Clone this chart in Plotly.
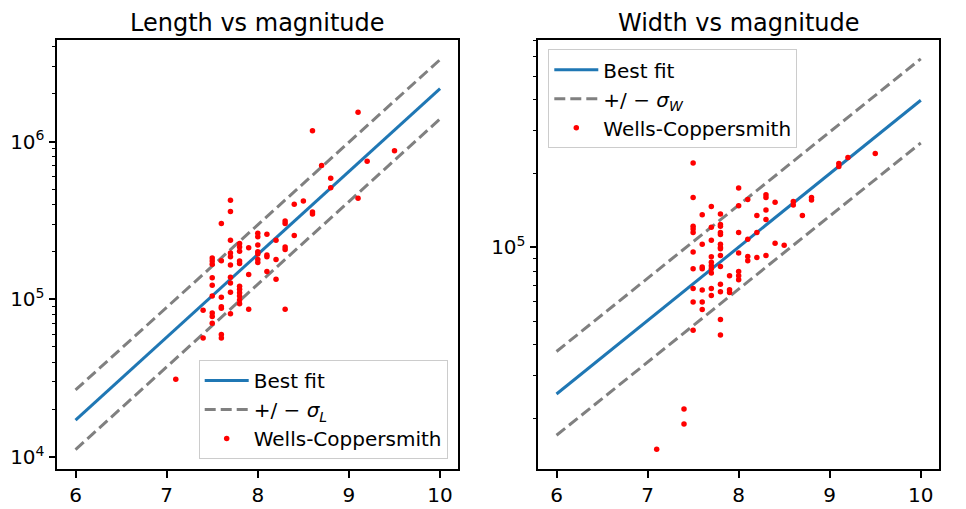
import plotly.graph_objects as go

# ---------------- data ----------------
fit_mag = [6, 10]
len_fit = [1.72e4, 2.16e6]
len_upper = [2.67e4, 3.30e6]
len_lower = [1.12e4, 1.39e6]

wid_fit = [2.52e4, 3.99e5]
wid_upper = [3.76e4, 5.89e5]
wid_lower = [1.71e4, 2.67e5]

wc_mag_len = ([7.1] + [7.4] * 2 + [7.5] * 9 + [7.6] * 7 + [7.7] * 10 + [7.8] * 11
              + [7.9] * 3 + [8.0] * 7 + [8.1] * 4 + [8.2] * 3 + [8.3] * 5 + [8.4] * 2
              + [8.5] + [8.6] * 3 + [8.7] + [8.8] * 2 + [9.1] * 2 + [9.2] + [9.5])
wc_length = [3.12e4,
             8.55e4, 5.7e4,
             1.83e5, 1.75e5, 1.67e5, 1.37e5, 1.23e5, 1.05e5, 8.2e4, 7.8e4, 7.05e4,
             3.03e5, 1.76e5, 1.03e5, 9.0e4, 8.8e4, 6.0e4, 5.7e4,
             4.25e5, 3.6e5, 2.37e5, 1.97e5, 1.86e5, 1.65e5, 1.38e5, 1.27e5, 1.11e5, 8.1e4,
             2.26e5, 2.15e5, 2.02e5, 1.75e5, 1.69e5, 1.21e5, 1.16e5, 1.10e5, 1.05e5, 9.9e4, 9.4e4,
             2.12e5, 1.44e5, 8.65e4,
             2.62e5, 2.49e5, 2.21e5, 2.0e5, 1.94e5, 1.79e5, 1.71e5,
             2.59e5, 1.91e5, 1.86e5, 1.50e5,
             2.37e5, 1.79e5, 1.34e5,
             3.14e5, 3.03e5, 2.15e5, 2.07e5, 8.65e4,
             4.0e5, 2.54e5,
             4.2e5,
             1.17e6, 3.58e5, 3.47e5,
             7.05e5,
             5.86e5, 5.1e5,
             1.53e6, 4.37e5,
             7.5e5,
             8.73e5]

wc_mag_wid = ([7.1] + [7.4] * 2 + [7.5] * 10 + [7.6] * 7 + [7.7] * 10 + [7.8] * 14
              + [7.9] * 3 + [8.0] * 7 + [8.1] * 4 + [8.2] * 3 + [8.3] * 5 + [8.4] * 2
              + [8.5] + [8.6] * 2 + [8.7] + [8.8] * 2 + [9.1] * 2 + [9.2] + [9.5])
wc_width = [1.50e4,
            2.19e4, 1.90e4,
            2.21e5, 1.60e5, 1.22e5, 1.19e5, 1.15e5, 9.58e4, 8.18e4, 6.8e4, 5.98e4, 4.59e4,
            1.36e5, 1.03e5, 8.32e4, 8.18e4, 6.7e4, 5.98e4, 5.58e4,
            1.47e5, 1.21e5, 1.07e5, 9.16e4, 8.7e4, 8.41e4, 8.18e4, 7.86e4, 6.8e4, 6.37e4,
            1.37e5, 1.24e5, 1.22e5, 1.15e5, 1.13e5, 1.03e5, 1.0e5, 9.88e4, 9.27e4, 8.36e4,
            7.08e4, 6.59e4, 5.08e4, 4.39e4,
            7.66e4, 6.71e4, 6.54e4,
            1.75e5, 1.48e5, 1.15e5, 9.49e4, 7.98e4, 7.66e4, 7.38e4,
            1.57e5, 1.08e5, 9.19e4, 8.83e4,
            1.35e5, 1.15e5, 9.1e4,
            1.64e5, 1.60e5, 1.42e5, 1.30e5, 9.27e4,
            1.53e5, 1.04e5,
            1.02e5,
            1.54e5, 1.49e5,
            1.35e5,
            1.60e5, 1.56e5,
            2.20e5, 2.14e5,
            2.33e5,
            2.42e5]

x_ticks = [6, 7, 8, 9, 10]
len_major = [1e4, 1e5, 1e6]
len_major_text = ["10<sup>4</sup>", "10<sup>5</sup>", "10<sup>6</sup>"]
wid_major = [1e5]
wid_major_text = ["10<sup>5</sup>"]

# ---------------- styling ----------------
FONT = "DejaVu Sans"
BLUE = "#1f77b4"
GREY = "#808080"
OFF = 8                      # page body margin of the html
W, H = 966 - OFF, 509 - OFF


def px(x):
    return (x - OFF) / W


def py(y):
    return 1 - (y - OFF) / H


def minor_vals(lo, hi):
    vals = []
    for e in range(lo, hi + 1):
        for m in range(2, 10):
            vals.append(m * 10 ** e)
    return vals


fig = go.Figure()

# left panel
fig.add_trace(go.Scatter(x=fit_mag, y=len_fit, mode="lines", name="Best fit",
                         line=dict(color=BLUE, width=3), xaxis="x", yaxis="y", legend="legend"))
fig.add_trace(go.Scatter(x=fit_mag, y=len_upper, mode="lines",
                         name="+/ − <i>σ<sub>L</sub></i>",
                         line=dict(color=GREY, width=3, dash="11px,5px"),
                         xaxis="x", yaxis="y", legend="legend", legendgroup="sl"))
fig.add_trace(go.Scatter(x=fit_mag, y=len_lower, mode="lines", showlegend=False,
                         line=dict(color=GREY, width=3, dash="11px,5px"),
                         xaxis="x", yaxis="y", legend="legend", legendgroup="sl"))
fig.add_trace(go.Scatter(x=wc_mag_len, y=wc_length, mode="markers", name="Wells-Coppersmith",
                         marker=dict(color="red", size=5.5, line=dict(width=0)),
                         xaxis="x", yaxis="y", legend="legend"))

# right panel
fig.add_trace(go.Scatter(x=fit_mag, y=wid_fit, mode="lines", name="Best fit",
                         line=dict(color=BLUE, width=3), xaxis="x2", yaxis="y2", legend="legend2"))
fig.add_trace(go.Scatter(x=fit_mag, y=wid_upper, mode="lines",
                         name="+/ − <i>σ<sub>W</sub></i>",
                         line=dict(color=GREY, width=3, dash="11px,5px"),
                         xaxis="x2", yaxis="y2", legend="legend2", legendgroup="sw"))
fig.add_trace(go.Scatter(x=fit_mag, y=wid_lower, mode="lines", showlegend=False,
                         line=dict(color=GREY, width=3, dash="11px,5px"),
                         xaxis="x2", yaxis="y2", legend="legend2", legendgroup="sw"))
fig.add_trace(go.Scatter(x=wc_mag_wid, y=wc_width, mode="markers", name="Wells-Coppersmith",
                         marker=dict(color="red", size=5.5, line=dict(width=0)),
                         xaxis="x2", yaxis="y2", legend="legend2"))

axis_common = dict(showgrid=False, zeroline=False, showline=True, linecolor="black",
                   linewidth=1.6, mirror=True, ticks="outside", ticklen=7, tickwidth=1.6,
                   tickcolor="black", tickfont=dict(family=FONT, size=20, color="black"))

legend_common = dict(bgcolor="rgba(255,255,255,0.8)", bordercolor="#cccccc", borderwidth=1,
                     font=dict(family=FONT, size=20, color="black"), itemwidth=44,
                     tracegroupgap=0)

fig.update_layout(
    width=W, height=H,
    margin=dict(l=0, r=0, t=0, b=0),
    paper_bgcolor="white", plot_bgcolor="white",
    font=dict(family=FONT, size=20, color="black"),
    xaxis=dict(domain=[px(57.3), px(458.3)], range=[5.8, 10.2], tickmode="array",
               tickvals=x_ticks, anchor="y", **axis_common),
    yaxis=dict(domain=[py(469.3), py(39.5)], type="log", range=[3.924, 6.646],
               tickmode="array", tickvals=len_major, ticktext=len_major_text, anchor="x",
               minor=dict(tickmode="array", tickvals=minor_vals(4, 6), ticks="outside",
                          ticklen=4, tickwidth=1.2, tickcolor="black"),
               **axis_common),
    xaxis2=dict(domain=[px(538.3), px(939)], range=[5.8, 10.2], tickmode="array",
                tickvals=x_ticks, anchor="y2", **axis_common),
    yaxis2=dict(domain=[py(469.3), py(39.5)], type="log", range=[4.094, 5.849],
                tickmode="array", tickvals=wid_major, ticktext=wid_major_text, anchor="x2",
                minor=dict(tickmode="array", tickvals=minor_vals(4, 5), ticks="outside",
                           ticklen=4, tickwidth=1.2, tickcolor="black"),
                **axis_common),
    legend=dict(x=px(447.7), y=py(459), xanchor="right", yanchor="bottom", **legend_common),
    legend2=dict(x=px(548.3), y=py(49.3), xanchor="left", yanchor="top", **legend_common),
    annotations=[
        dict(text="Length vs magnitude", x=px((57.3 + 458.3) / 2), y=py(39),
             xref="paper", yref="paper", xanchor="center", yanchor="bottom",
             showarrow=False, font=dict(family=FONT, size=24, color="black")),
        dict(text="Width vs magnitude", x=px((538.3 + 939) / 2), y=py(39),
             xref="paper", yref="paper", xanchor="center", yanchor="bottom",
             showarrow=False, font=dict(family=FONT, size=24, color="black")),
    ],
)

fig.write_html("out.html")
